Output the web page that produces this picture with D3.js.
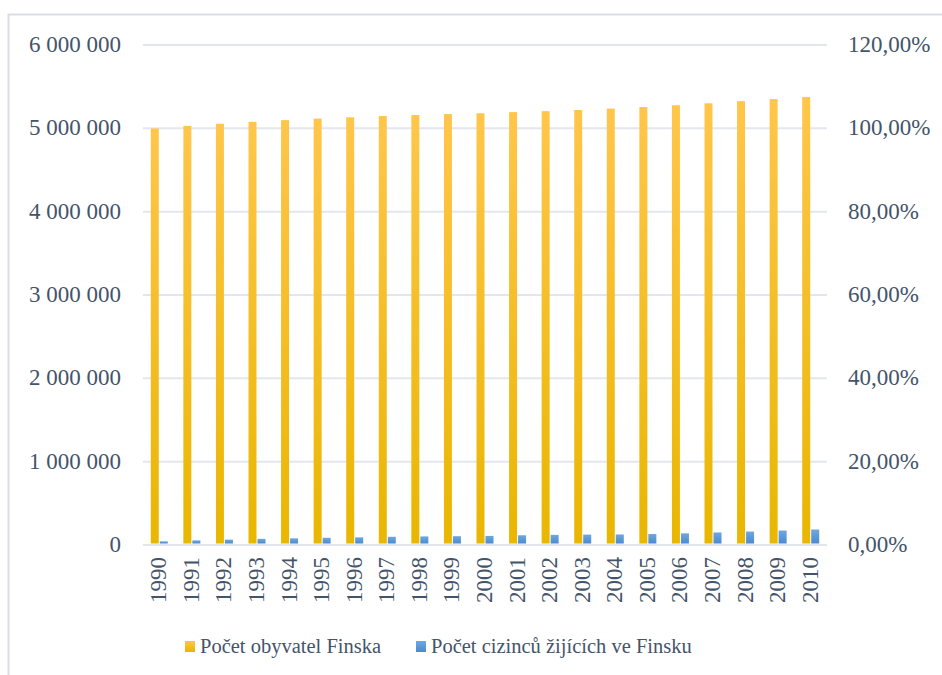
<!DOCTYPE html>
<html>
<head>
<meta charset="utf-8">
<script src="https://cdn.jsdelivr.net/npm/d3@7"></script>
<style>
  body { margin: 0; background: #fff; }
  svg text { fill: #44546A; }
</style>
</head>
<body>
<div id="chart"></div>
<script>
var years = ["1990","1991","1992","1993","1994","1995","1996","1997","1998","1999","2000",
             "2001","2002","2003","2004","2005","2006","2007","2008","2009","2010"];
var population = [4998478, 5029002, 5054982, 5077912, 5098754, 5116826, 5132320, 5147349,
                  5159646, 5171302, 5181115, 5194901, 5206295, 5219732, 5236611, 5255580,
                  5276955, 5300484, 5326314, 5351427, 5375276];
var foreigners = [26255, 37597, 46279, 55587, 62012, 68566, 73754, 80600, 85060, 87680, 91074,
                  98577, 103682, 107003, 108346, 113852, 121739, 132708, 143256, 155705, 167954];
var leftTicks = [0, 1000000, 2000000, 3000000, 4000000, 5000000, 6000000];
var rightTicks = [0, 0.2, 0.4, 0.6, 0.8, 1.0, 1.2];
var seriesNames = ["Počet obyvatel Finska", "Počet cizinců žijících ve Finsku"];

var width = 942, height = 675;
var FONT = "'Liberation Serif', 'Times New Roman', Times, 'DejaVu Serif', serif";
var svg = d3.select("#chart").append("svg")
  .attr("width", width).attr("height", height)
  .attr("font-family", FONT);

var defs = svg.append("defs");
var gGold = defs.append("linearGradient").attr("id", "gold")
  .attr("x1", 0).attr("y1", 0).attr("x2", 0).attr("y2", 1);
gGold.append("stop").attr("offset", "0%").attr("stop-color", "#FFC64B");
gGold.append("stop").attr("offset", "100%").attr("stop-color", "#E9B600");
var gBlue = defs.append("linearGradient").attr("id", "blue")
  .attr("x1", 0).attr("y1", 0).attr("x2", 0).attr("y2", 1);
gBlue.append("stop").attr("offset", "0%").attr("stop-color", "#6EA8E0");
gBlue.append("stop").attr("offset", "100%").attr("stop-color", "#4A8ACF");

// outer border
svg.append("rect")
  .attr("x", 8.5).attr("y", 14.5)
  .attr("width", 960).attr("height", 700)
  .attr("fill", "none").attr("stroke", "#D9DEE6").attr("stroke-width", 2);

var x = d3.scaleBand().domain(years).range([143, 827]).padding(0);
var y = d3.scaleLinear().domain([0, 6000000]).range([545, 45]);
var y2 = d3.scaleLinear().domain([0, 1.2]).range([545, 45]);

var loc = d3.formatLocale({ decimal: ",", thousands: "\u00a0", grouping: [3], currency: ["", ""] });
var fmtLeft = loc.format(",d");
var fmtRight = function (v) { return loc.format(".2f")(v * 100) + "%"; };

// gridlines
svg.append("g").selectAll("line").data(leftTicks).join("line")
  .attr("x1", 143).attr("x2", 827)
  .attr("y1", d => y(d)).attr("y2", d => y(d))
  .attr("stroke", "#E3E7ED").attr("stroke-width", 2);

// left axis labels
svg.append("g").selectAll("text").data(leftTicks).join("text")
  .attr("x", 121).attr("y", d => y(d)).attr("dy", "0.3em")
  .attr("text-anchor", "end").attr("font-size", 23)
  .text(d => fmtLeft(d));

// right axis labels
svg.append("g").selectAll("text").data(rightTicks).join("text")
  .attr("x", 848).attr("y", d => y2(d)).attr("dy", "0.3em")
  .attr("text-anchor", "start").attr("font-size", 23)
  .text(d => fmtRight(d));

// bars
var bw = 8;
svg.append("g").selectAll("rect").data(years).join("rect")
  .attr("x", (d) => x(d) + x.bandwidth() / 2 - bw - 0.5)
  .attr("y", (d, i) => y(population[i]))
  .attr("width", bw)
  .attr("height", (d, i) => y(0) - 1.5 - y(population[i]))
  .attr("fill", "url(#gold)");

svg.append("g").selectAll("rect").data(years).join("rect")
  .attr("x", (d) => x(d) + x.bandwidth() / 2 + 0.5)
  .attr("y", (d, i) => y(foreigners[i]) - 1.5)
  .attr("width", bw)
  .attr("height", (d, i) => y(0) - y(foreigners[i]))
  .attr("fill", "url(#blue)");

// year labels
svg.append("g").selectAll("text").data(years).join("text")
  .attr("transform", d => "translate(" + (x(d) + x.bandwidth() / 2 + 7) + ",557) rotate(-90)")
  .attr("text-anchor", "end").attr("font-size", 23)
  .text(d => d);

// legend
var legend = svg.append("g");
var legendItems = [
  { name: seriesNames[0], fill: "url(#gold)", x: 185 },
  { name: seriesNames[1], fill: "url(#blue)", x: 416 }
];
legendItems.forEach(function (it) {
  legend.append("rect").attr("x", it.x).attr("y", 641)
    .attr("width", 10).attr("height", 11).attr("fill", it.fill);
  legend.append("text").attr("x", it.x + 15).attr("y", 653)
    .attr("font-size", 20.5).text(it.name);
});
</script>
</body>
</html>
